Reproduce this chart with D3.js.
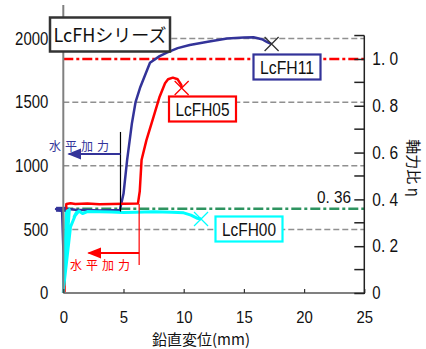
<!DOCTYPE html>
<html>
<head>
<meta charset="utf-8">
<script src="https://cdn.jsdelivr.net/npm/d3@7"></script>
<style>
  body { margin: 0; background: #fff; }
  text { font-family: "Liberation Sans", "Noto Sans CJK JP", sans-serif; }
  .jp { font-family: "Noto Sans CJK JP", sans-serif; }
</style>
</head>
<body>
<svg id="chart" width="426" height="349"></svg>
<script>
// vertical displacement (mm) vs axial force (kN)
var lcfh11 = [[0.0, 0], [0.02, 300], [-0.1, 645], [-0.6, 660], [0.2, 662], [1, 655], [2, 652], [3, 648],
    [4, 650], [4.7, 652], [5.0, 780], [5.3, 1045], [5.7, 1335], [6.0, 1500], [6.4, 1620], [7.2, 1810],
    [8.0, 1862], [8.6, 1890], [9.5, 1925], [10.5, 1950], [12, 1975], [13.6, 2000], [15, 2008],
    [15.8, 2010], [16.5, 1995], [16.9, 1975], [17.3, 1957]];
var lcfh05 = [[0.1, 0], [0.12, 200], [0.2, 500], [0.25, 700], [0.6, 705], [1, 700], [2, 703], [3, 698],
    [4, 700], [5, 701], [6.2, 703], [6.35, 800], [6.5, 1045], [6.9, 1200], [7.5, 1386], [8.0, 1543],
    [8.45, 1649], [8.7, 1680], [9.1, 1693], [9.5, 1680], [9.8, 1635], [9.83, 1612]];
var lcfh00 = [[0, 0], [0.15, 330], [0.25, 640], [0.5, 655], [0.05, 60], [0.6, 520], [1.1, 635],
    [0.9, 600], [1.3, 645], [1.6, 625], [2, 640], [3, 638], [4, 636], [5, 632], [6, 635], [7.5, 638],
    [9, 635], [10, 630], [10.6, 612], [11.1, 588], [11.44, 582]];

var series = [
    {name: "LcFH11", data: lcfh11, color: "#333399", box: [287, 67]},
    {name: "LcFH05", data: lcfh05, color: "#ff0000", box: [202.5, 109]},
    {name: "LcFH00", data: lcfh00, color: "#00ffff", box: [249, 229]}
];
var markColor = {LcFH11: "#333333", LcFH05: "#ff0000", LcFH00: "#00ffff"};

var xTicks = [0, 5, 10, 15, 20, 25];
var yTicks = [0, 500, 1000, 1500, 2000];
var rTicks = [0, 0.2, 0.4, 0.6, 0.8, 1.0];
var rMinor = [0.1, 0.3, 0.5, 0.7, 0.9, 1.1];
var N0 = 1840;          // axial force for ratio 1.0 (kN)
var etaLine = 0.36;

var svg = d3.select("#chart");

var x = d3.scaleLinear().domain([0, 25]).range([63.3, 364.3]);
var y = d3.scaleLinear().domain([0, 2000]).range([293, 38.6]);
var yr = d3.scaleLinear().domain([0, 1]).range([293, y(N0)]);

// squeeze digits to the narrow look of the original
function narrow(sel) {
    sel.attr("lengthAdjust", "spacingAndGlyphs")
        .attr("textLength", function () {
            var t = this.textContent, w = 0;
            for (var i = 0; i < t.length; i++) w += /[0-9]/.test(t[i]) ? 8.3 : 4.6;
            return w;
        });
}

// grid
svg.append("g").selectAll("line")
    .data(yTicks.slice(1))
    .enter().append("line")
    .attr("x1", x(0)).attr("x2", x(25))
    .attr("y1", function (d) { return y(d); })
    .attr("y2", function (d) { return y(d); })
    .attr("stroke", "#909090").attr("stroke-width", 1.5)
    .attr("stroke-dasharray", "6,3");

// reference dash-dot lines
svg.append("line")
    .attr("x1", x(0)).attr("x2", x(25))
    .attr("y1", yr(1)).attr("y2", yr(1))
    .attr("stroke", "#ff0000").attr("stroke-width", 2.5)
    .attr("stroke-dasharray", "10,3,3,3");
svg.append("line")
    .attr("x1", x(0)).attr("x2", x(25))
    .attr("y1", yr(etaLine)).attr("y2", yr(etaLine))
    .attr("stroke", "#2e9460").attr("stroke-width", 2.5)
    .attr("stroke-dasharray", "10,3,3,3");

// curves
var line = d3.line()
    .x(function (d) { return x(d[0]); })
    .y(function (d) { return y(d[1]); });

svg.append("g").selectAll("path")
    .data(series)
    .enter().append("path")
    .attr("d", function (s) { return line(s.data); })
    .attr("fill", "none")
    .attr("stroke", function (s) { return s.color; })
    .attr("stroke-width", function (s) { return s.name === "LcFH00" ? 3 : 2.5; })
    .attr("stroke-linejoin", "round");

// start blob of LcFH11
svg.append("line")
    .attr("x1", x(-0.6)).attr("x2", x(0.2))
    .attr("y1", y(658)).attr("y2", y(658))
    .attr("stroke", "#333399").attr("stroke-width", 5);

// failure marks
series.forEach(function (s) {
    var p = s.data[s.data.length - 1];
    var cx = x(p[0]), cy = y(p[1]), h = 7;
    svg.append("path")
        .attr("d", "M" + (cx - h) + "," + (cy - h) + "L" + (cx + h) + "," + (cy + h) +
            "M" + (cx - h) + "," + (cy + h) + "L" + (cx + h) + "," + (cy - h))
        .attr("stroke", markColor[s.name]).attr("stroke-width", 1.3);
});

// horizontal loading annotations
var defs = svg.append("defs");
function arrowHead(id, color) {
    defs.append("marker").attr("id", id)
        .attr("viewBox", "0 0 10 10").attr("refX", 9).attr("refY", 5)
        .attr("markerWidth", 7).attr("markerHeight", 7).attr("orient", "auto")
        .append("path").attr("d", "M0,1L10,5L0,9Z").attr("fill", color);
}
arrowHead("ab", "#333399");
arrowHead("ar", "#ff0000");

svg.append("line")
    .attr("x1", x(4.75)).attr("x2", x(4.75))
    .attr("y1", y(1266)).attr("y2", y(640))
    .attr("stroke", "#000").attr("stroke-width", 1.2);
svg.append("line")
    .attr("x1", x(4.75)).attr("x2", x(0.45))
    .attr("y1", y(1093)).attr("y2", y(1093))
    .attr("stroke", "#333399").attr("stroke-width", 2).attr("marker-end", "url(#ab)");
svg.append("text").attr("class", "jp")
    .attr("x", 49).attr("y", y(1093) - 3)
    .attr("font-size", 12).attr("letter-spacing", 4)
    .attr("fill", "#333399").text("水平加力");

svg.append("line")
    .attr("x1", x(6.3)).attr("x2", x(6.3))
    .attr("y1", y(700)).attr("y2", y(220))
    .attr("stroke", "#ff0000").attr("stroke-width", 1.2);
svg.append("line")
    .attr("x1", x(6.3)).attr("x2", x(2.1))
    .attr("y1", y(314)).attr("y2", y(314))
    .attr("stroke", "#ff0000").attr("stroke-width", 2).attr("marker-end", "url(#ar)");
svg.append("text").attr("class", "jp")
    .attr("x", 70).attr("y", 270)
    .attr("font-size", 12).attr("letter-spacing", 4)
    .attr("fill", "#ff0000").text("水平加力");

// axes
svg.append("line")
    .attr("x1", x(0)).attr("x2", x(0)).attr("y1", 5).attr("y2", y(0))
    .attr("stroke", "#808080").attr("stroke-width", 2);
svg.append("line")
    .attr("x1", x(0)).attr("x2", x(25)).attr("y1", y(0)).attr("y2", y(0))
    .attr("stroke", "#808080").attr("stroke-width", 2);

var xAxis = d3.axisBottom(x).tickValues(xTicks).tickSizeInner(-4).tickSizeOuter(0)
    .tickPadding(18).tickFormat(d3.format("d"));
var gx = svg.append("g").attr("transform", "translate(0," + y(0) + ")").call(xAxis);
gx.select(".domain").remove();
gx.selectAll(".tick line").attr("stroke", "#333").attr("stroke-width", 1.2);
gx.selectAll(".tick text").attr("font-size", 17).attr("fill", "#111").call(narrow);

var yAxis = d3.axisLeft(y).tickValues(yTicks).tickSize(0).tickPadding(15)
    .tickFormat(d3.format("d"));
var gy = svg.append("g").attr("transform", "translate(" + x(0) + ",0)").call(yAxis);
gy.select(".domain").remove();
gy.selectAll(".tick text").attr("font-size", 18).attr("fill", "#111").call(narrow);

var rAxis = d3.axisRight(yr).tickValues(rTicks).tickSizeInner(-10).tickSizeOuter(0)
    .tickPadding(8).tickFormat(function (d) { return d === 0 ? "0" : d.toFixed(1).replace(".", ". "); });
var gr = svg.append("g").attr("transform", "translate(" + x(25) + ",0)").call(rAxis);
gr.select(".domain").remove();
gr.selectAll(".tick line").attr("stroke", "#222").attr("stroke-width", 1.5);
gr.selectAll(".tick text").attr("font-size", 18).attr("fill", "#111").call(narrow);
gr.selectAll(".minor").data(rMinor).enter().append("line")
    .attr("x1", -10).attr("x2", 0)
    .attr("y1", function (d) { return yr(d); }).attr("y2", function (d) { return yr(d); })
    .attr("stroke", "#222").attr("stroke-width", 1.5);
gr.append("line")
    .attr("x1", 0).attr("x2", 0).attr("y1", yr(1.1)).attr("y2", yr(0) + 1)
    .attr("stroke", "#222").attr("stroke-width", 1.5);

svg.append("text")
    .attr("x", 351).attr("y", 203).attr("text-anchor", "end")
    .attr("font-size", 17).attr("fill", "#111").text("0. 36").call(narrow);

// axis titles
svg.append("text").attr("class", "jp")
    .attr("x", 201).attr("y", 345).attr("text-anchor", "middle")
    .attr("font-size", 15).attr("fill", "#111")
    .text("鉛直変位(mm)");
svg.append("text").attr("class", "jp")
    .attr("transform", "translate(408,168) rotate(90)")
    .attr("text-anchor", "middle")
    .attr("font-size", 15).attr("fill", "#111")
    .text("軸力比 η");

// series label boxes
series.forEach(function (s) {
    var g = svg.append("g").attr("transform", "translate(" + s.box[0] + "," + s.box[1] + ")");
    g.append("rect").attr("x", -33.5).attr("y", -12.5).attr("width", 67).attr("height", 25)
        .attr("fill", "#fff").attr("stroke", s.color).attr("stroke-width", 2.2);
    g.append("text").attr("text-anchor", "middle").attr("y", 6.5)
        .attr("font-size", 18).attr("fill", "#111")
        .attr("textLength", 54).attr("lengthAdjust", "spacingAndGlyphs")
        .text(s.name);
});

// series title box
var tg = svg.append("g");
tg.append("rect").attr("x", 50).attr("y", 17.5).attr("width", 120).attr("height", 34)
    .attr("fill", "#fff").attr("stroke", "#333").attr("stroke-width", 2.5);
tg.append("text").attr("class", "jp").attr("x", 110).attr("y", 41.5).attr("text-anchor", "middle")
    .attr("font-size", 18).attr("fill", "#111").text("LcFHシリーズ");
</script>
</body>
</html>
